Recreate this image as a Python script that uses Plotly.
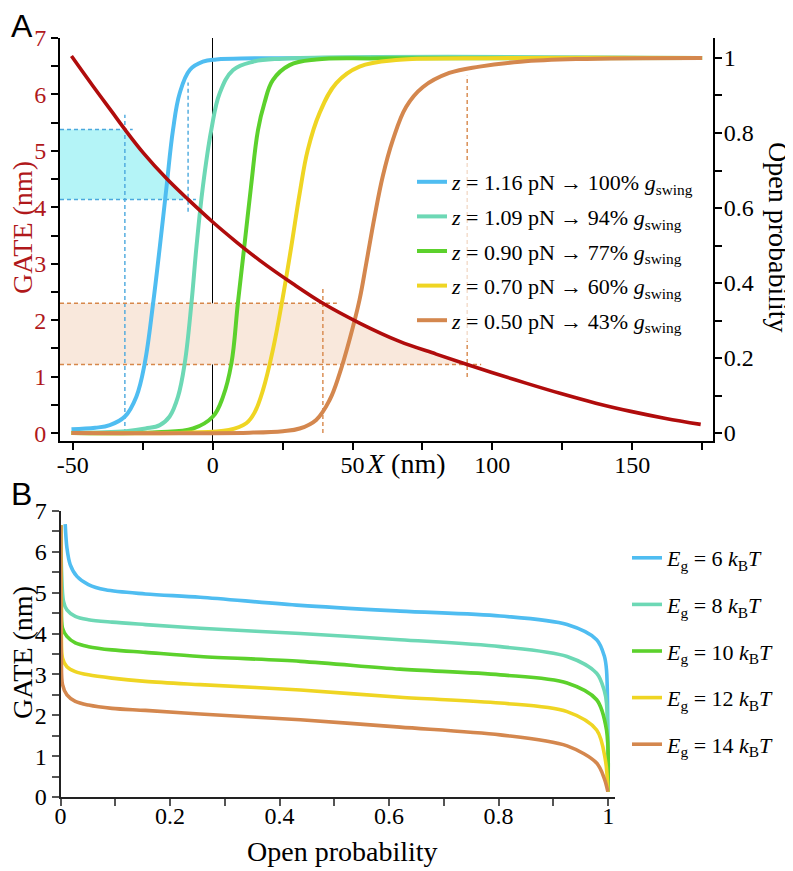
import plotly.graph_objects as go

# page body has an 8px margin: figure sits at (8, 8) in the 793x871 window
OFF = 8
FW, FH = 793 - OFF, 871 - OFF
FONT = "Liberation Serif"
SANS = "Liberation Sans"


def px(sx):
    return (sx - OFF) / FW


def py(sy):
    return 1 - (sy - OFF) / FH


# ---------------- Panel A data ----------------
z_force = [1.16, 1.09, 0.90, 0.70, 0.50]
g_pct = [100, 94, 77, 60, 43]
colors = ["#4FBDF1", "#6DD8B5", "#5CD12C", "#EFD523", "#D4874E"]
gate_color = "#B00C0C"

sig116_x = [-50.5, -42.0, -36.8, -31.4, -27.3, -24.3, -21.3, -18.9, -16.5, -14.2, -11.8, -8.2, -3.5, 1.3, 15.0, 175.0]
sig116_p = [0.010, 0.014, 0.021, 0.044, 0.097, 0.186, 0.346, 0.497, 0.657, 0.808, 0.906, 0.968, 0.990, 0.996, 0.999, 1.0]

sig109_x = [-50.5, -31.0, -24.0, -18.9, -15.4, -12.4, -10.0, -7.6, -5.8, -3.5, -0.5, 2.5, 7.3, 14.4, 25.0, 175.0]
sig109_p = [0.001, 0.005, 0.012, 0.021, 0.044, 0.097, 0.186, 0.346, 0.497, 0.657, 0.808, 0.906, 0.968, 0.990, 0.998, 1.0]

sig090_x = [-50.5, -20.0, -7.0, 0.1, 3.7, 6.7, 9.0, 11.3, 13.7, 16.2, 18.5, 21.5, 27.5, 37.0, 60.0, 175.0]
sig090_p = [0.0, 0.002, 0.012, 0.044, 0.097, 0.186, 0.346, 0.497, 0.657, 0.808, 0.880, 0.941, 0.981, 0.996, 0.999, 1.0]

sig070_x = [-50.5, -10.0, 5.8, 12.0, 15.0, 18.0, 21.5, 25.1, 28.1, 31.1, 34.0, 38.2, 44.2, 52.5, 66.8, 90.0, 175.0]
sig070_p = [0.0, 0.001, 0.008, 0.026, 0.055, 0.115, 0.221, 0.363, 0.497, 0.639, 0.755, 0.853, 0.933, 0.977, 0.995, 0.999, 1.0]

sig050_x = [-50.5, 13.2, 25.1, 31.1, 37.0, 41.8, 45.4, 48.9, 52.5, 54.9, 57.9, 60.8, 64.4, 69.2, 75.1, 84.6, 95.4, 110.0, 130.0, 175.0]
sig050_p = [0.0, 0.001, 0.005, 0.012, 0.035, 0.088, 0.159, 0.248, 0.355, 0.452, 0.577, 0.684, 0.781, 0.870, 0.922, 0.960, 0.977, 0.990, 0.997, 1.0]

gate_x = [-50.5, -42.7, -36.0, -31.4, -24.9, -16.5, -8.8, 0.0, 8.5, 16.8, 28.7, 39.4, 52.5, 66.8, 79.9, 91.0,
          99.8, 112.0, 124.5, 137.0, 149.5, 162.0, 174.5]
gate_nm = [6.68, 6.14, 5.69, 5.38, 4.97, 4.51, 4.14, 3.74, 3.385, 3.06, 2.645, 2.30, 1.95, 1.625, 1.40, 1.215,
           1.075, 0.885, 0.70, 0.53, 0.385, 0.26, 0.155]

# guide (dashed) positions: X where the gate curve crosses the band levels
blue_guide_x = [-31.4, -8.8]
blue_guide_gate = [5.38, 4.14]
orange_guide_x = [39.4, 91.0]
orange_guide_gate = [2.30, 1.215]

xA_ticks = [-50, 0, 50, 100, 150]
xA_ticklabels = ["-50", "0", "50", "100", "150"]

# ---------------- Panel B data ----------------
eg_vals = [6, 8, 10, 12, 14]
eg6_p = [0.0086, 0.0117, 0.0177, 0.030, 0.051, 0.082, 0.155, 0.255, 0.438, 0.62, 0.803, 0.925, 0.979, 0.993, 0.997, 0.9995]
eg6_g = [6.68, 6.10, 5.69, 5.40, 5.20, 5.07, 4.97, 4.89, 4.69, 4.55, 4.43, 4.22, 3.85, 3.45, 3.11, 0.13]
eg8_p = [0.0005, 0.002, 0.0055, 0.0117, 0.027, 0.051, 0.094, 0.155, 0.255, 0.438, 0.62, 0.803, 0.925, 0.979, 0.993, 0.997, 0.9995]
eg8_g = [6.65, 5.50, 4.79, 4.58, 4.42, 4.34, 4.28, 4.22, 4.13, 4.00, 3.85, 3.68, 3.44, 3.03, 2.60, 2.30, 0.13]
eg10_p = [0.0005, 0.0015, 0.0037, 0.0117, 0.027, 0.051, 0.094, 0.155, 0.255, 0.438, 0.62, 0.803, 0.925, 0.979, 0.997, 0.9995]
eg10_g = [6.65, 4.80, 4.13, 3.93, 3.77, 3.68, 3.60, 3.54, 3.44, 3.32, 3.13, 2.99, 2.79, 2.38, 1.64, 0.13]
eg12_p = [0.0005, 0.0015, 0.0037, 0.0117, 0.027, 0.051, 0.094, 0.155, 0.255, 0.438, 0.62, 0.803, 0.925, 0.979, 0.995, 0.9995]
eg12_g = [6.65, 4.00, 3.40, 3.19, 3.07, 2.99, 2.91, 2.83, 2.75, 2.62, 2.44, 2.30, 2.09, 1.64, 0.90, 0.13]
eg14_p = [0.0005, 0.0015, 0.0037, 0.0117, 0.027, 0.051, 0.094, 0.155, 0.255, 0.438, 0.62, 0.803, 0.925, 0.979, 0.993, 0.9995]
eg14_g = [6.65, 3.40, 2.75, 2.50, 2.34, 2.25, 2.17, 2.12, 2.03, 1.89, 1.71, 1.52, 1.25, 0.83, 0.45, 0.13]

xB_ticks = [0, 0.2, 0.4, 0.6, 0.8, 1.0]
xB_ticklabels = ["0", "0.2", "0.4", "0.6", "0.8", "1"]

# ---------------- axis ranges ----------------
xA_range = [-54.6, 178.9]
gateA_range = [-0.14, 7.0]
probA_range = [-0.0213, 1.0533]

fig = go.Figure()

# ---- bands (below everything) ----
def band(x_hi, x_lo, lev_hi, lev_lo):
    inner = [(x, g) for x, g in zip(gate_x, gate_nm) if x_hi < x < x_lo]
    xs = [xA_range[0], xA_range[0], x_hi] + [p[0] for p in inner] + [x_lo, xA_range[0]]
    ys = [lev_lo, lev_hi, lev_hi] + [p[1] for p in inner] + [lev_lo, lev_lo]
    return xs, ys

for gx, gg, fc in [(blue_guide_x, blue_guide_gate, "#B4F4F7"),
                   (orange_guide_x, orange_guide_gate, "#F9E8DC")]:
    bx, by = band(gx[0], gx[1], gg[0], gg[1])
    fig.add_trace(go.Scatter(x=bx, y=by, fill="toself", fillcolor=fc, mode="lines",
                             line=dict(width=0), showlegend=False, hoverinfo="skip",
                             xaxis="x", yaxis="y"))

def guides(gx, gg, over, top):
    xs = [xA_range[0], gx[0] + over, None, xA_range[0], gx[1] + over, None,
          gx[0], gx[0], None, gx[1], gx[1]]
    ys = [gg[0], gg[0], None, gg[1], gg[1], None,
          0.0, gg[0] + 0.26, None, gg[1] - 0.22, top]
    return xs, ys

for gx, gg, over, top, lc in [(blue_guide_x, blue_guide_gate, 2.8, 6.21, "#4AA8DD"),
                               (orange_guide_x, orange_guide_gate, 5.0, 6.33, "#D7874A")]:
    lx, ly = guides(gx, gg, over, top)
    fig.add_trace(go.Scatter(x=lx, y=ly, mode="lines", line=dict(color=lc, width=1.4, dash="4px,3px"),
                             showlegend=False, hoverinfo="skip", xaxis="x", yaxis="y", connectgaps=False))

# ---- sigmoids on probability axis ----
sig_sets = [(sig116_x, sig116_p), (sig109_x, sig109_p), (sig090_x, sig090_p),
            (sig070_x, sig070_p), (sig050_x, sig050_p)]
for i, ((sx, sp), z, pc, c) in enumerate(zip(sig_sets, z_force, g_pct, colors)):
    name = f"<i>z</i> = {z:.2f} pN \u2192 {pc}% <i>g</i><sub>swing</sub>"
    fig.add_trace(go.Scatter(x=sx, y=sp, mode="lines", line=dict(color=c, width=4, shape="spline", smoothing=1.1),
                             name=name, legend="legend", legendgroup=f"a{i}", xaxis="x", yaxis="y2"))

# ---- gate curve on top ----
fig.add_trace(go.Scatter(x=gate_x, y=gate_nm, mode="lines",
                         line=dict(color=gate_color, width=3.6, shape="spline", smoothing=1.0),
                         showlegend=False, xaxis="x", yaxis="y3"))

# ---- Panel B ----
b_sets = [(eg6_p, eg6_g), (eg8_p, eg8_g), (eg10_p, eg10_g), (eg12_p, eg12_g), (eg14_p, eg14_g)]
for i, ((bp, bg), e, c) in enumerate(zip(b_sets, eg_vals, colors)):
    name = f"<i>E</i><sub>g</sub> = {e} <i>k</i><sub>B</sub><i>T</i>"
    fig.add_trace(go.Scatter(x=bp, y=bg, mode="lines", line=dict(color=c, width=3.6, shape="spline", smoothing=0.9),
                             name=name, legend="legend2", legendgroup=f"b{i}", xaxis="x2", yaxis="y4"))

tickA = dict(ticks="outside", ticklen=7, tickwidth=1.5, tickcolor="black")
minorA = lambda d: dict(dtick=d, ticks="outside", ticklen=7, tickwidth=1.5, tickcolor="black")

fig.update_layout(
    width=FW, height=FH, margin=dict(l=0, r=0, t=0, b=0, autoexpand=False),
    paper_bgcolor="white", plot_bgcolor="white",
    font=dict(family=FONT, color="black"),
    xaxis=dict(domain=[px(60), px(713)], range=xA_range, anchor="y", automargin=False,
               tickmode="array", tickvals=xA_ticks, ticktext=xA_ticklabels, **tickA,
               minor=dict(tick0=0, **minorA(25)), ticklabelstandoff=-6,
               showline=True, linecolor="black", linewidth=2, showgrid=False,
               zeroline=True, zerolinecolor="black", zerolinewidth=1,
               tickfont=dict(family=FONT, size=24, color="black")),
    yaxis=dict(domain=[py(441), py(38)], range=gateA_range, anchor="x", side="left", automargin=False,
               tick0=0, dtick=1, **tickA, minor=dict(tick0=0, **minorA(0.5)),
               showline=True, linecolor="black", linewidth=2, showgrid=False, zeroline=False,
               tickfont=dict(family=FONT, size=24, color="#B0181B")),
    yaxis2=dict(range=probA_range, anchor="x", overlaying="y", side="right", automargin=False,
                tick0=0, dtick=0.2, **tickA, minor=dict(tick0=0, **minorA(0.1)), ticklabelstandoff=-3,
                showline=True, linecolor="black", linewidth=2, showgrid=False, zeroline=False,
                tickfont=dict(family=FONT, size=24, color="black")),
    yaxis3=dict(range=gateA_range, anchor="x", overlaying="y", visible=False, automargin=False),
    xaxis2=dict(domain=[px(60.5), px(615)], range=[0, 1.0125], anchor="y4", automargin=False,
                tickmode="array", tickvals=xB_ticks, ticktext=xB_ticklabels,
                ticks="outside", ticklen=7, tickwidth=1.5, tickcolor="#555", ticklabelstandoff=-11,
                minor=dict(tick0=0, dtick=0.1, ticks="outside", ticklen=7, tickwidth=1.5, tickcolor="#555"),
                showline=True, linecolor="#222", linewidth=2, showgrid=False, zeroline=False,
                tickfont=dict(family=FONT, size=24, color="black")),
    yaxis4=dict(domain=[py(797), py(511)], range=[0, 7], anchor="x2", automargin=False,
                tick0=0, dtick=1, ticks="outside", ticklen=7, tickwidth=1.5, tickcolor="#555",
                minor=dict(tick0=0, dtick=0.5, ticks="outside", ticklen=7, tickwidth=1.5, tickcolor="#555"),
                showline=True, linecolor="#222", linewidth=2, showgrid=False, zeroline=False,
                tickfont=dict(family=FONT, size=24, color="black")),
    legend=dict(x=px(412), xanchor="left", y=py(161), yanchor="top",
                bgcolor="rgba(255,255,255,0.7)", borderwidth=0, traceorder="grouped",
                tracegroupgap=3, font=dict(family=FONT, size=22, color="black")),
    legend2=dict(x=px(627), xanchor="left", y=py(537), yanchor="top",
                 bgcolor="rgba(255,255,255,0)", borderwidth=0, traceorder="grouped",
                 tracegroupgap=15, font=dict(family=FONT, size=22, color="black")),
    showlegend=True,
)

ann = [
    dict(text="A", x=px(9), y=py(26), font=dict(family=SANS, size=32, color="black"), xanchor="left", yanchor="middle"),
    dict(text="B", x=px(9), y=py(494), font=dict(family=SANS, size=32, color="black"), xanchor="left", yanchor="middle"),
    dict(text="GATE (nm)", x=px(22), y=py(228), textangle=-90, font=dict(size=28, color="#B0181B"),
         xanchor="center", yanchor="middle"),
    dict(text="Open probability", x=px(779), y=py(237), textangle=90, font=dict(size=28, color="black"),
         xanchor="center", yanchor="middle"),
    dict(text="<i>X</i> (nm)", x=px(406), y=py(464), font=dict(size=28, color="black"),
         xanchor="center", yanchor="middle"),
    dict(text="GATE (nm)", x=px(22), y=py(653), textangle=-90, font=dict(size=28, color="black"),
         xanchor="center", yanchor="middle"),
    dict(text="Open probability", x=px(342), y=py(851), font=dict(size=28, color="black"),
         xanchor="center", yanchor="middle"),
]
for a in ann:
    a.update(xref="paper", yref="paper", showarrow=False)
    a["font"].setdefault("family", FONT)
fig.update_layout(annotations=ann)

fig.write_html("out.html")
